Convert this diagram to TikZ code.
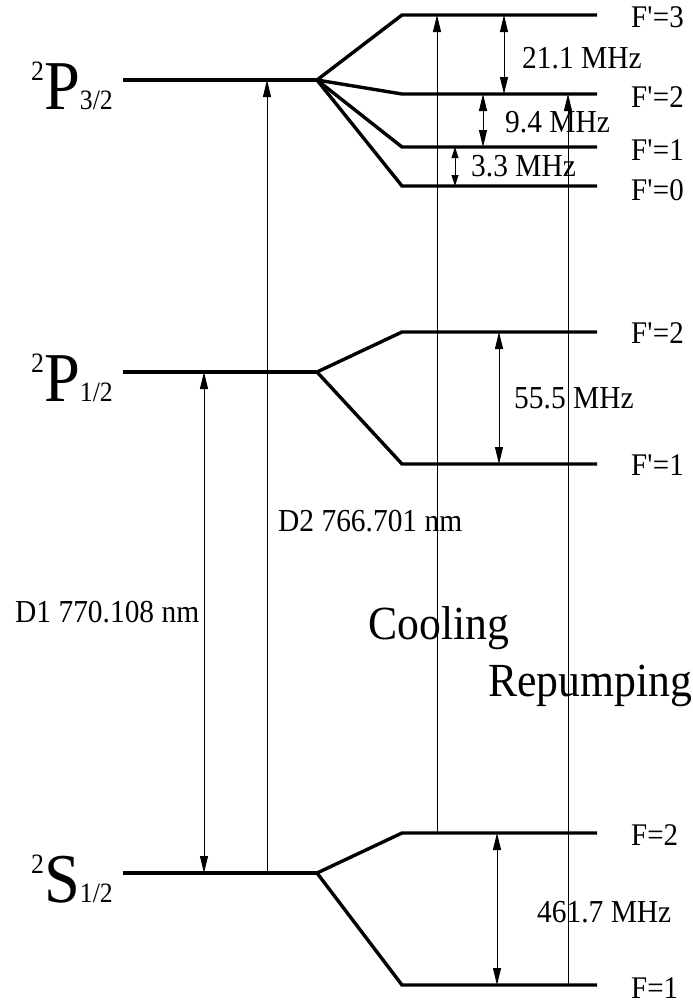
\documentclass[tikz,border=0pt]{standalone}
\usepackage{fontspec}
\setmainfont[FakeStretch=0.92]{Liberation Serif}
\usetikzlibrary{arrows.meta}
\begin{document}
\begin{tikzpicture}[x=1pt,y=-1pt,
  level/.style={line width=3.4pt},
  trans/.style={line width=0.9pt,-{Triangle[length=17pt,width=8pt]}},
  dbl/.style={line width=0.9pt,{Triangle[length=17pt,width=8pt]}-{Triangle[length=17pt,width=8pt]}},
  sdbl/.style={line width=0.9pt,{Triangle[length=11pt,width=7pt]}-{Triangle[length=11pt,width=7pt]}},
  flab/.style={anchor=west,inner sep=0pt,font=\fontsize{31.5}{33}\selectfont},
  mlab/.style={anchor=west,inner sep=0pt,font=\fontsize{32}{34}\selectfont},
  big/.style={anchor=west,inner sep=0pt,font=\fontsize{47.5}{50}\selectfont},
  term/.style={anchor=east,inner sep=0pt}
]
\useasboundingbox (0,0) rectangle (693,1005);
% fine structure levels
\coordinate (P3a) at (123,80);  \coordinate (P3b) at (317,80);
\coordinate (P1a) at (123,372); \coordinate (P1b) at (317,372);
\coordinate (Sa)  at (123,873); \coordinate (Sb)  at (317,873);
% hyperfine levels
\coordinate (F3a) at (402,15);  \coordinate (F3b) at (597,15);
\coordinate (F2a) at (402,94);  \coordinate (F2b) at (597,94);
\coordinate (F1a) at (402,147); \coordinate (F1b) at (597,147);
\coordinate (F0a) at (402,186); \coordinate (F0b) at (597,186);
\coordinate (G2a) at (402,332); \coordinate (G2b) at (597,332);
\coordinate (G1a) at (402,464); \coordinate (G1b) at (597,464);
\coordinate (S2a) at (402,833); \coordinate (S2b) at (597,833);
\coordinate (S1a) at (402,985); \coordinate (S1b) at (597,985);

\draw[level] (P3a) -- (P3b);
\draw[level] (P3b) -- (F3a) -- (F3b);
\draw[level] (P3b) -- (F2a) -- (F2b);
\draw[level] (P3b) -- (F1a) -- (F1b);
\draw[level] (P3b) -- (F0a) -- (F0b);
\draw[level] (P1a) -- (P1b);
\draw[level] (P1b) -- (G2a) -- (G2b);
\draw[level] (P1b) -- (G1a) -- (G1b);
\draw[level] (Sa) -- (Sb);
\draw[level] (Sb) -- (S2a) -- (S2b);
\draw[level] (Sb) -- (S1a) -- (S1b);

% term labels
\node[term] (tP3) at (113,86) {\fontsize{28}{28}\selectfont\raisebox{29pt}{2}\fontsize{70}{70}\selectfont P\fontsize{28}{28}\selectfont 3/2};
\node[term] (tP1) at (113,378) {\fontsize{28}{28}\selectfont\raisebox{29pt}{2}\fontsize{70}{70}\selectfont P\fontsize{28}{28}\selectfont 1/2};
\node[term] (tS) at (113,879) {\fontsize{28}{28}\selectfont\raisebox{29pt}{2}\fontsize{70}{70}\selectfont S\fontsize{28}{28}\selectfont 1/2};

% hyperfine labels
\node[flab] (lF3) at (631,17) {F\textquotesingle=3};
\node[flab] (lF2) at (631,97) {F\textquotesingle=2};
\node[flab] (lF1) at (631,150) {F\textquotesingle=1};
\node[flab] (lF0) at (631,190) {F\textquotesingle=0};
\node[flab] (lG2) at (631,333) {F\textquotesingle=2};
\node[flab] (lG1) at (631,465) {F\textquotesingle=1};
\node[flab] (lS2) at (631,835) {F=2};
\node[flab] (lS1) at (631,988) {F=1};

% transitions
\coordinate (coolB) at (437,833); \coordinate (coolT) at (437,15);
\coordinate (repB) at (568,985);  \coordinate (repT) at (568,94);
\coordinate (d2B) at (267,873);   \coordinate (d2T) at (267,80);
\coordinate (d1T) at (204,372);   \coordinate (d1B) at (204,873);
\draw[trans] (coolB) -- (coolT);
\draw[trans] (repB) -- (repT);
\draw[trans] (d2B) -- (d2T);
\draw[dbl] (d1T) -- (d1B);

% splittings
\coordinate (a1) at (504,15);  \coordinate (a2) at (504,94);
\coordinate (b1) at (483,94);  \coordinate (b2) at (483,147);
\coordinate (c1) at (455,147); \coordinate (c2) at (455,186);
\coordinate (e1) at (499,332); \coordinate (e2) at (499,464);
\coordinate (g1) at (497,833); \coordinate (g2) at (497,985);
\draw[dbl] (a1) -- (a2);
\draw[dbl] (b1) -- (b2);
\draw[sdbl] (c1) -- (c2);
\draw[dbl] (e1) -- (e2);
\draw[dbl] (g1) -- (g2);

\node[mlab] (m21) at (522,58) {21.1 MHz};
\node[mlab] (m94) at (505,122) {9.4 MHz};
\node[mlab] (m33) at (471,166) {3.3 MHz};
\node[mlab] (m55) at (514,398) {55.5 MHz};
\node[mlab] (m46) at (537,912) {461.7 MHz};
\node[mlab] (ld2) at (278,521) {D2 766.701 nm};
\node[mlab] (ld1) at (15,612) {D1 770.108 nm};
\node[big] (lcool) at (368,628) {Cooling};
\node[big] (lrep) at (488,686) {Repumping};
\end{tikzpicture}
\end{document}
